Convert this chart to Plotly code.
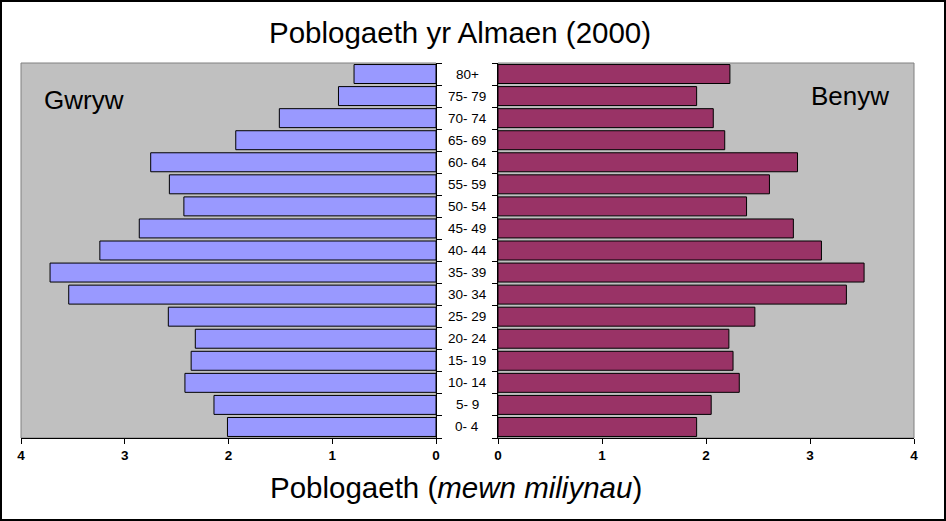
import plotly.graph_objects as go

ages = ["0- 4", "5- 9", "10- 14", "15- 19", "20- 24", "25- 29", "30- 34", "35- 39",
        "40- 44", "45- 49", "50- 54", "55- 59", "60- 64", "65- 69", "70- 74", "75- 79", "80+"]
male = [2.01, 2.14, 2.42, 2.36, 2.32, 2.58, 3.54, 3.72, 3.24, 2.86, 2.43, 2.57, 2.75, 1.93, 1.51, 0.94, 0.79]
female = [1.91, 2.05, 2.32, 2.26, 2.22, 2.47, 3.35, 3.52, 3.11, 2.84, 2.39, 2.61, 2.88, 2.18, 2.07, 1.91, 2.23]
x_ticks = [0, 1, 2, 3, 4]

W, H = 946, 521
L, R, T, B = 21, 32, 63, 83
pw = W - L - R
ph = H - T - B

left_dom = [0, (436 - L) / pw]
right_dom = [(498 - L) / pw, 1]

fig = go.Figure()
fig.add_trace(go.Bar(y=ages, x=male, orientation="h", xaxis="x", yaxis="y",
                     marker=dict(color="#9999FF", line=dict(color="black", width=1)),
                     name="Gwryw", showlegend=False, hoverinfo="x+y"))
fig.add_trace(go.Bar(y=ages, x=female, orientation="h", xaxis="x2", yaxis="y2",
                     marker=dict(color="#993366", line=dict(color="black", width=1)),
                     name="Benyw", showlegend=False, hoverinfo="x+y"))

axis_common = dict(showgrid=False, zeroline=False, showline=True, linecolor="black", linewidth=1,
                   ticks="outside", ticklen=5, tickcolor="black",
                   tickfont=dict(family="Liberation Sans Narrow, Liberation Sans", size=13.5,
                                 color="black", weight="bold"))

fig.update_layout(
    width=W, height=H,
    margin=dict(l=L, r=R, t=T, b=B),
    paper_bgcolor="white", plot_bgcolor="rgba(0,0,0,0)",
    bargap=0.14,
    xaxis=dict(domain=left_dom, range=[4, 0], tickvals=x_ticks, anchor="y", **axis_common),
    xaxis2=dict(domain=right_dom, range=[0, 4], tickvals=x_ticks, anchor="y2", **axis_common),
    yaxis=dict(anchor="x", side="right", showgrid=False, zeroline=False, showline=True,
               linecolor="black", ticks="outside", ticklen=5, tickcolor="black",
               tickson="boundaries", showticklabels=False, type="category",
               categoryorder="array", categoryarray=ages),
    yaxis2=dict(anchor="x2", side="left", showgrid=False, zeroline=False, showline=True,
                linecolor="black", ticks="outside", ticklen=5, tickcolor="black",
                tickson="boundaries", showticklabels=False, type="category",
                categoryorder="array", categoryarray=ages, matches="y"),
    font=dict(family="Liberation Sans", color="black"),
)

# gray plot backgrounds with gray border
for dom in (left_dom, right_dom):
    fig.add_shape(type="rect", xref="paper", yref="paper", x0=dom[0], x1=dom[1], y0=0, y1=1,
                  fillcolor="#C0C0C0", line=dict(color="#808080", width=1), layer="below")

# outer border
fig.add_shape(type="rect", xref="paper", yref="paper",
              x0=(1 - L) / pw, x1=(W - 1 - L) / pw,
              y0=-(B - 1) / ph, y1=1 + (T - 1) / ph,
              line=dict(color="black", width=2), fillcolor="rgba(0,0,0,0)")

# center age labels
cx = (467 - L) / pw
for a in ages:
    fig.add_annotation(x=cx, xref="paper", y=a, yref="y", text=a, showarrow=False,
                       xanchor="center", font=dict(size=13.5, family="Liberation Sans", color="black"))

fig.add_annotation(x=(460 - L) / pw, xref="paper", y=1 + (T - 33) / ph, yref="paper",
                   text="Poblogaeth yr Almaen (2000)", showarrow=False, xanchor="center", yanchor="middle",
                   font=dict(size=29.5, family="Liberation Sans", color="black"))
fig.add_annotation(x=(456 - L) / pw, xref="paper", y=-(487 - T - ph) / ph, yref="paper",
                   text="Poblogaeth (<i>mewn miliynau</i>)", showarrow=False, xanchor="center", yanchor="middle",
                   font=dict(size=29.5, family="Liberation Sans", color="black"))
fig.add_annotation(x=(42 - L) / pw, xref="paper", y=1 - (100 - T) / ph, yref="paper",
                   text="Gwryw", showarrow=False, xanchor="left", yanchor="middle",
                   font=dict(size=26, family="Liberation Sans", color="black"))
fig.add_annotation(x=(891 - L) / pw, xref="paper", y=1 - (96 - T) / ph, yref="paper",
                   text="Benyw", showarrow=False, xanchor="right", yanchor="middle",
                   font=dict(size=26, family="Liberation Sans", color="black"))

fig.write_html("out.html", config={"displayModeBar": False},
               post_script="document.body.style.margin='0';document.body.style.padding='0';document.body.style.overflow='hidden';")
